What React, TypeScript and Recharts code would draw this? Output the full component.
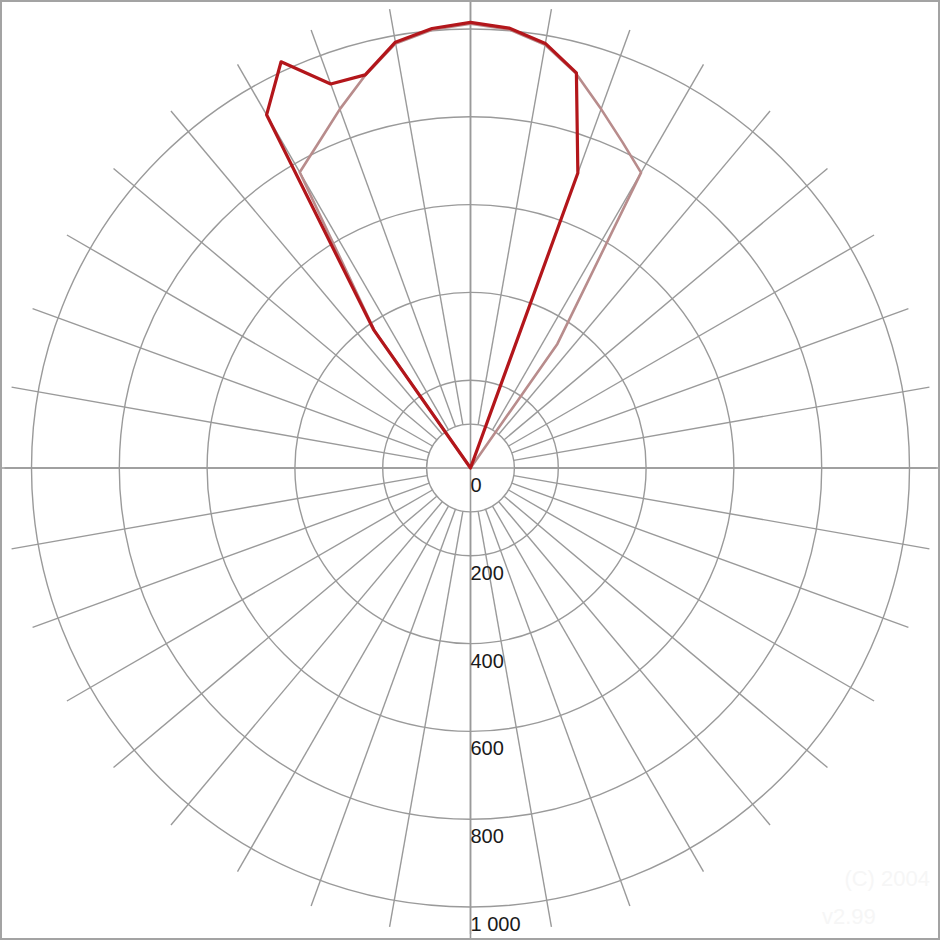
import React from 'react';
import { RadarChart, Radar, PolarGrid, PolarAngleAxis, PolarRadiusAxis } from 'recharts';

// Plane angles, clockwise from the top of the diagram (degrees)
const planeAngles = [
  0, 5, 10, 15, 20, 25, 30, 35, 40, 45, 50, 55, 60, 65, 70, 75, 80, 85,
  90, 95, 100, 105, 110, 115, 120, 125, 130, 135, 140, 145, 150, 155, 160, 165, 170, 175,
  180, 185, 190, 195, 200, 205, 210, 215, 220, 225, 230, 235, 240, 245, 250, 255, 260, 265,
  270, 275, 280, 285, 290, 295, 300, 305, 310, 315, 320, 325, 330, 335, 340, 345, 350, 355,
];

// C0-C180 plane (dark red)
const planeC0 = [
  1015, 1006, 982, 932, 715, 0, 0, 0, 0, 0, 0, 0, 0, 0, 0, 0, 0, 0,
  0, 0, 0, 0, 0, 0, 0, 0, 0, 0, 0, 0, 0, 0, 0, 0, 0, 0,
  0, 0, 0, 0, 0, 0, 0, 0, 0, 0, 0, 0, 0, 0, 0, 0, 0, 0,
  0, 0, 0, 0, 0, 0, 0, 0, 0, 0, 0, 385, 929, 1021, 931, 927, 985, 1005,
];

// C90-C270 plane (light)
const planeC90 = [
  1012, 1003, 979, 930, 870, 819, 777, 345, 0, 0, 0, 0, 0, 0, 0, 0, 0, 0,
  0, 0, 0, 0, 0, 0, 0, 0, 0, 0, 0, 0, 0, 0, 0, 0, 0, 0,
  0, 0, 0, 0, 0, 0, 0, 0, 0, 0, 0, 0, 0, 0, 0, 0, 0, 0,
  0, 0, 0, 0, 0, 0, 0, 0, 0, 0, 0, 380, 778, 818, 870, 926, 982, 1002,
];

const radiusTicks = [0, 100, 200, 400, 600, 800, 1000];
const labelledTicks = [0, 200, 400, 600, 800, 1000];
const spokeAngles = [
  0, 10, 20, 30, 40, 50, 60, 70, 80, 90, 100, 110, 120, 130, 140, 150, 160, 170,
  180, 190, 200, 210, 220, 230, 240, 250, 260, 270, 280, 290, 300, 310, 320, 330, 340, 350,
];
const axisAngles = [0, 90, 180, 270];

const data = planeAngles.map((a, i) => ({ angle: a, c0: planeC0[i], c90: planeC90[i] }));

const W = 940;
const H = 940;
const CX = 470.5;
const CY = 468;
const R = 439;
const GRID = '#9a9a9a';
const margin = { top: 0, right: 0, bottom: 0, left: 0 };

const fmt = (v: number) => (v >= 1000 ? `${Math.floor(v / 1000)} ${String(v % 1000).padStart(3, '0')}` : String(v));

const RadiusTick = (props: any) => {
  const { x, y, payload } = props;
  if (!labelledTicks.includes(payload.value)) return <g />;
  return (
    <text x={x} y={y + 24} textAnchor="start" fontSize={20} fill="#1a1a1a" fontFamily="'Liberation Sans', Arial, sans-serif">
      {fmt(payload.value)}
    </text>
  );
};

const layer: React.CSSProperties = { position: 'absolute', left: 0, top: 0 };

export default function App() {
  return (
    <div style={{ position: 'relative', width: W, height: H, overflow: 'hidden', background: '#fff' }}>
      <style>{'body{margin:0}'}</style>
      {/* spokes */}
      <div style={layer}>
        <RadarChart width={W} height={H} data={data} cx={CX} cy={CY} innerRadius={44} outerRadius={466} margin={margin}>
          <PolarAngleAxis dataKey="angle" tick={false} axisLine={false} tickLine={false} />
          <PolarGrid gridType="circle" polarRadius={[]} polarAngles={spokeAngles} stroke={GRID} strokeWidth={1.4} />
        </RadarChart>
      </div>
      {/* main axes through the centre */}
      <div style={layer}>
        <RadarChart width={W} height={H} data={data} cx={CX} cy={CY} innerRadius={0} outerRadius={490} margin={margin}>
          <PolarAngleAxis dataKey="angle" tick={false} axisLine={false} tickLine={false} />
          <PolarGrid gridType="circle" polarRadius={[]} polarAngles={axisAngles} stroke={GRID} strokeWidth={1.6} />
        </RadarChart>
      </div>
      {/* rings and data */}
      <div style={layer}>
        <RadarChart width={W} height={H} data={data} cx={CX} cy={CY} outerRadius={R} margin={margin}>
          <PolarGrid gridType="circle" radialLines={false} stroke={GRID} strokeWidth={1.4} />
          <PolarAngleAxis dataKey="angle" tick={false} axisLine={false} tickLine={false} />
          <PolarRadiusAxis
            angle={-90}
            domain={[0, 1000]}
            allowDataOverflow
            ticks={radiusTicks}
            tick={RadiusTick}
            axisLine={false}
            tickLine={false}
            type="number"
          />
          <Radar dataKey="c90" stroke="#b88c8c" strokeWidth={2.6} fill="none" fillOpacity={0} dot={false} isAnimationActive={false} strokeLinejoin="round" />
          <Radar dataKey="c0" stroke="#b3161b" strokeWidth={3.2} fill="none" fillOpacity={0} dot={false} isAnimationActive={false} strokeLinejoin="round" />
        </RadarChart>
      </div>
      <div style={{ position: 'absolute', right: 10, top: 866, fontSize: 22, color: '#f6f6f6', fontFamily: 'Arial, sans-serif', whiteSpace: 'nowrap' }}>(C) 2004</div>
      <div style={{ position: 'absolute', left: 822, top: 904, fontSize: 22, color: '#f6f6f6', fontFamily: 'Arial, sans-serif', whiteSpace: 'nowrap' }}>v2.99</div>
      <div style={{ position: 'absolute', left: 0, top: 0, width: W, height: H, boxSizing: 'border-box', border: '2px solid #a3a3a3', pointerEvents: 'none' }} />
    </div>
  );
}
